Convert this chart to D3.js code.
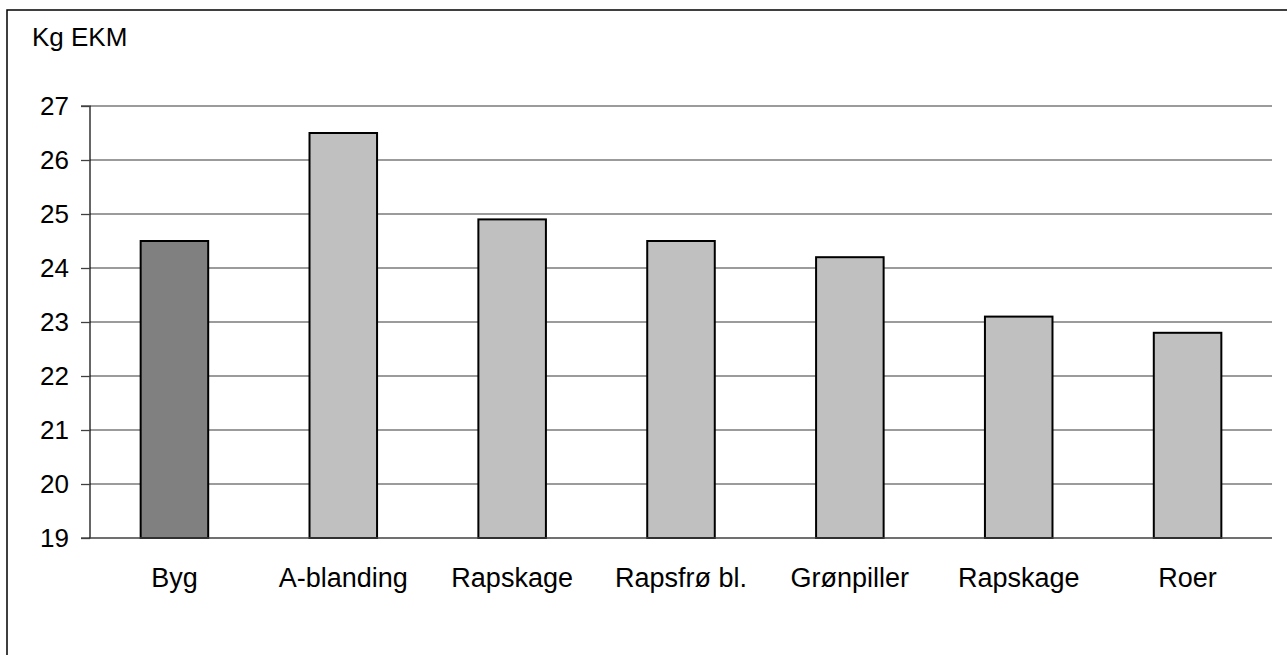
<!DOCTYPE html>
<html>
<head>
<meta charset="utf-8">
<script src="https://cdn.jsdelivr.net/npm/d3@7"></script>
<style>
  html, body { margin: 0; padding: 0; background: #fff; }
  svg { display: block; font-family: "Liberation Sans", Arial, sans-serif; }
</style>
</head>
<body>
<svg id="chart" width="1287" height="655"></svg>
<script>
const categories = ["Byg", "A-blanding", "Rapskage", "Rapsfrø bl.", "Grønpiller", "Rapskage", "Roer"];
const values = [24.5, 26.5, 24.9, 24.5, 24.2, 23.1, 22.8];
const yTicks = [19, 20, 21, 22, 23, 24, 25, 26, 27];
const yLabel = "Kg EKM";

(function () {
const svg = d3.select("#chart");
const W = 1287, H = 655;
const pLeft = 90, pRight = 1272, pTop = 106, pBottom = 538;

svg.append("rect").attr("x", 0).attr("y", 0).attr("width", W).attr("height", H).attr("fill", "#fff");
// outer border (right/bottom cut off in reference)
svg.append("rect").attr("x", 7).attr("y", 10).attr("width", 1400).attr("height", 800)
  .attr("fill", "none").attr("stroke", "#000").attr("stroke-width", 1.5);

const x = d3.scaleBand().domain(d3.range(categories.length)).range([pLeft, pRight]).paddingInner(0.6).paddingOuter(0.3);
const y = d3.scaleLinear().domain([19, 27]).range([pBottom, pTop]);

// gridlines
svg.append("g").selectAll("line").data(yTicks.filter(t => t !== 19)).join("line")
  .attr("x1", pLeft).attr("x2", pRight)
  .attr("y1", d => y(d)).attr("y2", d => y(d))
  .attr("stroke", "#7a7a7a").attr("stroke-width", 1.4);

// bars
svg.append("g").selectAll("rect").data(values).join("rect")
  .attr("x", (d, i) => x(i))
  .attr("width", x.bandwidth())
  .attr("y", d => y(d))
  .attr("height", d => y(19) - y(d))
  .attr("fill", (d, i) => i === 0 ? "#808080" : "#c0c0c0")
  .attr("stroke", "#000").attr("stroke-width", 2);

// y axis
const yAxis = d3.axisLeft(y).tickValues(yTicks).tickSize(9).tickPadding(12).tickFormat(d3.format("d"));
const gy = svg.append("g").attr("transform", `translate(${pLeft},0)`).call(yAxis);
gy.select(".domain").attr("stroke", "#000").attr("stroke-width", 1.2).attr("d", `M-9,${pBottom}H0V${pTop}H-9`);
gy.selectAll(".tick line").attr("stroke", "#404040").attr("stroke-width", 1.3);
gy.selectAll(".tick text").attr("font-size", 26).attr("fill", "#000")
  .attr("font-family", "'Liberation Sans', Arial, sans-serif");

// baseline at 19
svg.append("line").attr("x1", pLeft).attr("x2", pRight).attr("y1", y(19)).attr("y2", y(19))
  .attr("stroke", "#404040").attr("stroke-width", 1.4);

// x labels
const xAxis = d3.axisBottom(x).tickSize(0).tickPadding(0).tickFormat(i => categories[i]);
const gx = svg.append("g").attr("transform", `translate(0,${pBottom})`).call(xAxis);
gx.select(".domain").remove();
gx.selectAll(".tick text").attr("font-size", 27).attr("fill", "#000")
  .attr("font-family", "'Liberation Sans', Arial, sans-serif")
  .attr("dy", null).attr("y", 49);

// y label
svg.append("text").attr("x", 32).attr("y", 46).attr("font-size", 26).attr("fill", "#000").text(yLabel);
})();
</script>
</body>
</html>
